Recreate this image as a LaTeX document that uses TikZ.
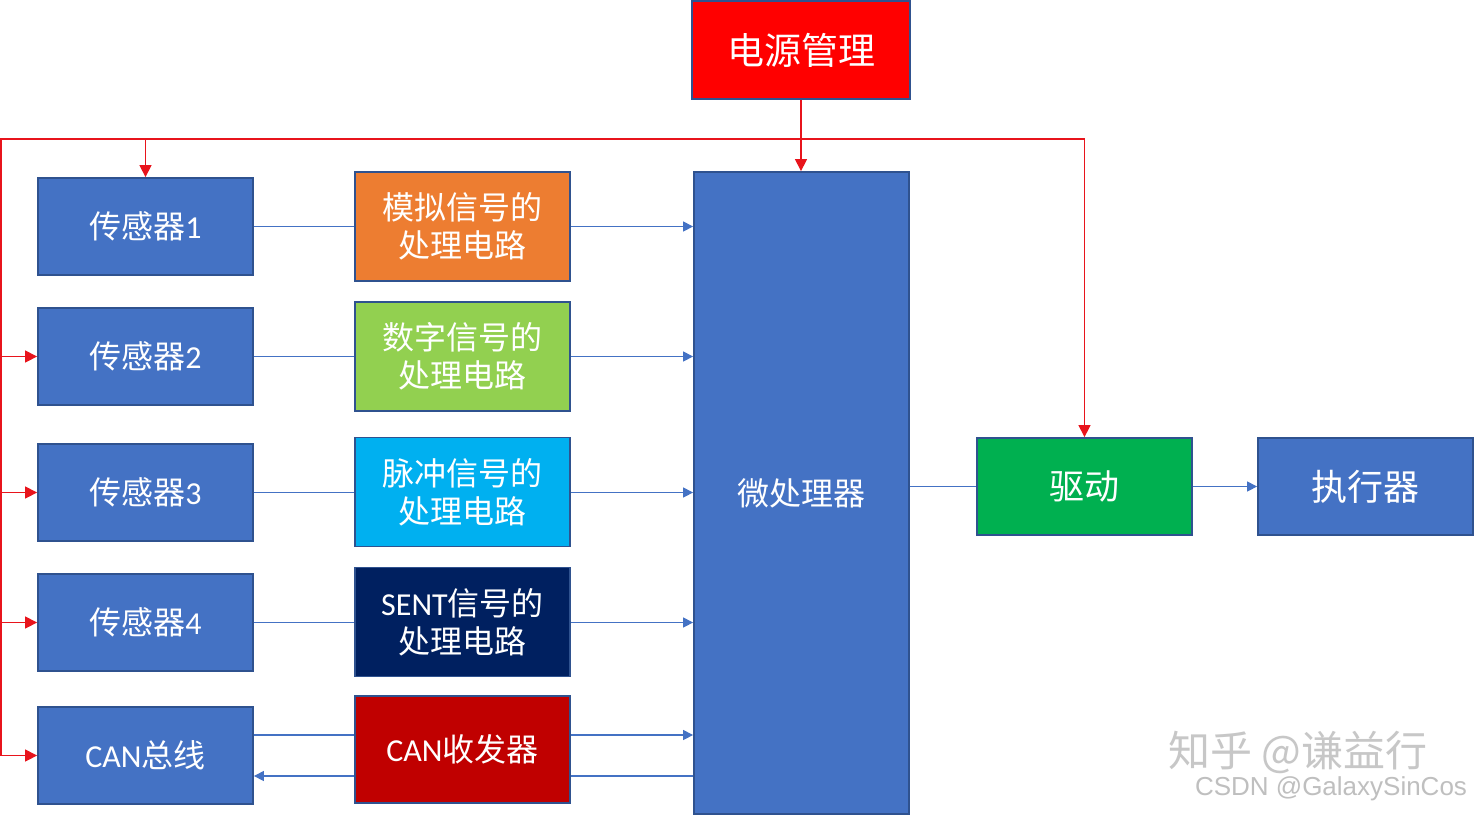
\documentclass[tikz,border=0pt]{standalone}
\usepackage{fontspec}
\setmainfont{Carlito}
\newfontfamily\cjk{Noto Sans CJK SC}
\newfontfamily\arialf{Liberation Sans}
\usetikzlibrary{arrows.meta}
\definecolor{bord}{HTML}{2F528F}
\definecolor{bblue}{HTML}{4472C4}
\definecolor{pwrred}{HTML}{FF0000}
\definecolor{orng}{HTML}{ED7D31}
\definecolor{lgreen}{HTML}{92D050}
\definecolor{cyanb}{HTML}{00B0F0}
\definecolor{navy}{HTML}{002060}
\definecolor{dred}{HTML}{C00000}
\definecolor{grn}{HTML}{00B050}
\definecolor{redline}{HTML}{E8141C}
\newcommand\fsz[1]{\fontsize{#1}{38}\selectfont}
\tikzset{
  blockbox/.style={draw=bord, line width=1.8pt, text=white, inner sep=0pt,
    minimum width=215pt, align=center},
  sensbox/.style={blockbox, fill=bblue, minimum height=97pt, font=\fsz{32}},
  procbox/.style={blockbox, minimum height=109pt, font=\fsz{32}},
  bl/.style={draw=bblue, line width=1.2pt},
  rd/.style={draw=redline, line width=1.3pt},
  tipb/.style={-{Triangle[length=10pt,width=10pt]}},
  tipr/.style={-{Triangle[length=12pt,width=12pt]}}
}
\begin{document}
\begin{tikzpicture}[x=1pt,y=-1pt]
\useasboundingbox[fill=white] (0,0) rectangle (1474,815);
% power
\node[blockbox, fill=pwrred, minimum width=218pt, minimum height=98pt, font=\fsz{37}] (pwr) at (801,50) {\cjk 电源管理};
% sensors
\node[sensbox] (s1) at (145.5,226.5) {{\cjk 传感器}1};
\node[sensbox] (s2) at (145.5,356.5) {{\cjk 传感器}2};
\node[sensbox] (s3) at (145.5,492.5) {{\cjk 传感器}3};
\node[sensbox] (s4) at (145.5,622.5) {{\cjk 传感器}4};
\node[sensbox] (can) at (145.5,755.5) {CAN{\cjk 总线}};
% processing
\node[procbox, fill=orng] (p1) at (462.5,226.5) {\cjk 模拟信号的\\\cjk 处理电路};
\node[procbox, fill=lgreen] (p2) at (462.5,356.5) {\cjk 数字信号的\\\cjk 处理电路};
\node[procbox, fill=cyanb] (p3) at (462.5,492) {\cjk 脉冲信号的\\\cjk 处理电路};
\node[procbox, fill=navy] (p4) at (462.5,622) {SENT{\cjk 信号的}\\\cjk 处理电路};
\node[procbox, fill=dred, minimum height=107pt] (p5) at (462.5,749.5) {CAN{\cjk 收发器}};
% mcu
\node[blockbox, fill=bblue, minimum height=642pt, font=\fsz{32}] (mcu) at (801.5,493) {\cjk 微处理器};
% driver, actuator
\node[blockbox, fill=grn, minimum height=97pt, font=\fsz{35}] (drv) at (1084.5,486.5) {\cjk 驱动};
\node[blockbox, fill=bblue, minimum height=97pt, font=\fsz{36}] (act) at (1365.5,486.5) {\cjk 执行器};
% blue connectors
\foreach \i in {1,2,3,4}{
  \draw[bl] (s\i.east) -- (s\i.east -| p\i.west);
  \draw[bl,tipb] (s\i.east -| p\i.east) -- (s\i.east -| mcu.west);
}
\draw[bl] ([yshift=20.5pt]can.east) -- ([yshift=20.5pt]can.east -| p5.west);
\draw[bl,tipb] ([yshift=20.5pt]can.east -| p5.east) -- ([yshift=20.5pt]can.east -| mcu.west);
\draw[bl] ([yshift=-20.5pt]can.east -| mcu.west) -- ([yshift=-20.5pt]can.east -| p5.east);
\draw[bl,tipb] ([yshift=-20.5pt]can.east -| p5.west) -- ([yshift=-20.5pt]can.east);
\draw[bl] (mcu.east |- drv.west) -- (drv.west);
\draw[bl,tipb] (drv.east) -- (act.west);
% red power lines
\coordinate (tl) at (1,139);
\coordinate (tr) at (1084.5,139);
\draw[rd,tipr] (pwr.south) -- (pwr.south |- mcu.north);
\draw[rd,tipr] (tl |- can.west) -- (tl) -- (tr) -- (drv.north);
\draw[rd,tipr] (s1.north |- tl) -- (s1.north);
\draw[rd,tipr] (tl |- s2.west) -- (s2.west);
\draw[rd,tipr] (tl |- s3.west) -- (s3.west);
\draw[rd,tipr] (tl |- s4.west) -- (s4.west);
\draw[rd,tipr] (tl |- can.west) -- (can.west);
% watermark
\node[text=black!22, font=\cjk\fontsize{42}{42}\selectfont, inner sep=0pt] (wm1) at (1298,752) {知乎 @谦益行};
\node[text=black!25, font=\arialf\fontsize{26}{26}\selectfont, inner sep=0pt] (wm2) at (1331,789) {CSDN @GalaxySinCos};
\end{tikzpicture}
\end{document}
